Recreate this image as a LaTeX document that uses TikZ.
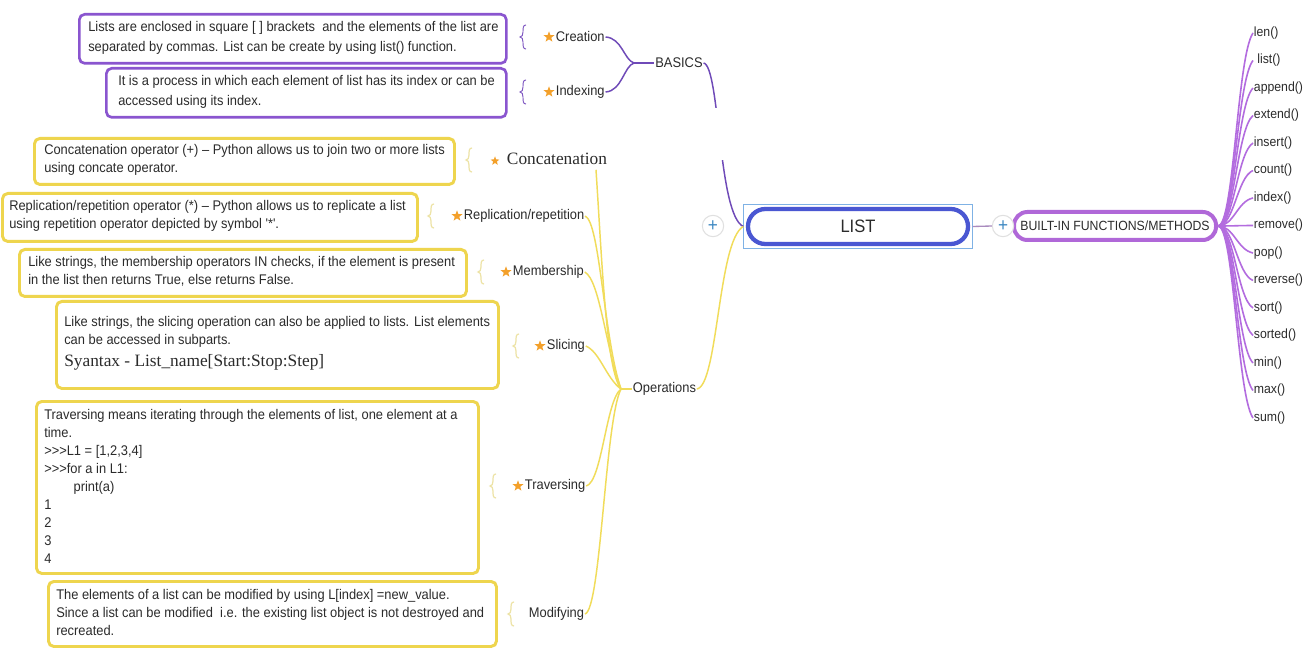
\documentclass[tikz,border=0pt]{standalone}
\usepackage{fontspec}
\setmainfont{Liberation Sans}[FakeStretch=0.92, Ligatures=TeXOff]
\newfontfamily\serf{Liberation Serif}
\usetikzlibrary{shapes.geometric,fit,calc}
\definecolor{txt}{HTML}{2B2B2B}
\definecolor{pur}{HTML}{8A55CF}
\definecolor{purl}{HTML}{6F4AB8}
\definecolor{yel}{HTML}{EED54E}
\definecolor{yell}{HTML}{F1DC5A}
\definecolor{ybrc}{HTML}{EDE3A6}
\definecolor{pbrc}{HTML}{7B52C0}
\definecolor{starc}{HTML}{F3A02A}
\definecolor{listc}{HTML}{4A57D2}
\definecolor{selc}{HTML}{7FB2E5}
\definecolor{bfc}{HTML}{B068D8}
\definecolor{fanc}{HTML}{B36CDF}
\definecolor{plusc}{HTML}{3D88C2}
\definecolor{lnk}{HTML}{A98BBE}
\tikzset{
 pbox/.style={draw=pur, line width=2pt, rounded corners=4pt, fill=white, anchor=north west, inner sep=0pt},
 ybox/.style={draw=yel, line width=2.2pt, rounded corners=4pt, fill=white, anchor=north west, inner sep=0pt},
 btext/.style={anchor=west, align=left, inner sep=0pt, text=txt, font=\fontsize{10.5}{13.5}\selectfont},
 ptext/.style={btext, font=\fontsize{10.5}{15}\selectfont},
 lab/.style={anchor=west, inner sep=0.5pt, text=txt, font=\fontsize{10.5}{12}\selectfont},
 meth/.style={anchor=west, inner sep=0.5pt, text=txt, font=\fontsize{10}{12}\selectfont},
 starn/.style={star, star points=5, star point ratio=2.4, fill=starc, draw=none, minimum size=8.5pt, inner sep=0pt},
 pline/.style={draw=purl, line width=1.1pt},
 yline/.style={draw=yell, line width=1.1pt},
 fanl/.style={draw=fanc, line width=1.2pt},
 plusn/.style={circle, draw=black!12, fill=white, line width=0.8pt, minimum size=16pt, inner sep=0pt, text=plusc, font=\fontsize{14}{14}\selectfont},
 pbr/.pic={\draw[pbrc, line width=0.7pt] (6,-12) .. controls (3,-12) and (3,-9) .. (3,-5) .. controls (3,-2) and (2,0) .. (0,0) .. controls (2,0) and (3,2) .. (3,5) .. controls (3,9) and (3,12) .. (6,12);},
 ybr/.pic={\draw[ybrc, line width=0.9pt] (6,-12) .. controls (3,-12) and (3,-9) .. (3,-5) .. controls (3,-2) and (2,0) .. (0,0) .. controls (2,0) and (3,2) .. (3,5) .. controls (3,9) and (3,12) .. (6,12);},
}
\begin{document}
\begin{tikzpicture}[x=0.75pt,y=-0.75pt]
\useasboundingbox (0,0) rectangle (1312,648);
\fill[white] (0,0) rectangle (1312,648);

% ---------- BASICS ----------
\node[pbox, minimum width=320.25pt, minimum height=36.75pt] (bcre) at (78,13) {};
\node[ptext] (tcre) at (88,37.5) {Lists are enclosed in square [ ] brackets\ \ and the elements of the list are\\separated by commas. List can be create by using list() function.};
\node[pbox, minimum width=300pt, minimum height=36.75pt] (bidx) at (105,67) {};
\node[ptext] (tidx) at (118,91.5) {It is a process in which each element of list has its index or can be\\accessed using its index.};
\pic at (520,37) {pbr};
\pic at (520,92) {pbr};
\node[starn] (scre) at (549,37) {};
\node[lab] (lcre) at (555,37) {Creation};
\node[starn] (sidx) at (549,92) {};
\node[lab] (lidx) at (555,92) {Indexing};
\coordinate (bj) at (634,63);
\node[lab, anchor=center] (basics) at (679,63) {BASICS};
\draw[pline] (lcre.east) .. controls (622,38) and (624,60) .. (bj);
\draw[pline] (lidx.east) .. controls (622,91) and (624,66) .. (bj);
\draw[pline] (bj) -- (basics.west);

% ---------- Operations ----------
\node[ybox, minimum width=315pt, minimum height=34.5pt] (bcon) at (33,137) {};
\node[btext] (tcon) at (44,160) {Concatenation operator (+) – Python allows us to join two or more lists\\using concate operator.};
\node[ybox, minimum width=311.25pt, minimum height=36pt] (brep) at (1,192) {};
\node[btext] (trep) at (9,216) {Replication/repetition operator (*) – Python allows us to replicate a list\\using repetition operator depicted by symbol '*'.};
\node[ybox, minimum width=335.25pt, minimum height=35.25pt] (bmem) at (18,248) {};
\node[btext] (tmem) at (28,271.5) {Like strings, the membership operators IN checks, if the element is present\\in the list then returns True, else returns False.};
\node[ybox, minimum width=331.5pt, minimum height=65.25pt] (bsli) at (55,300) {};
\node[btext] (tsli) at (64,343.5) {Like strings, the slicing operation can also be applied to lists. List elements\\can be accessed in subparts.\\[3pt]{\serf\fontsize{13}{15}\selectfont Syantax - List\_name[Start:Stop:Step]}};
\node[ybox, minimum width=331.5pt, minimum height=129pt] (btra) at (35,400) {};
\node[btext] (ttra) at (44,486) {Traversing means iterating through the elements of list, one element at a\\time.\\>>>L1 = [1,2,3,4]\\>>>for a in L1:\\\hspace*{22pt}print(a)\\1\\2\\3\\4};
\node[ybox, minimum width=336pt, minimum height=48.75pt] (bmod) at (47,580) {};
\node[btext] (tmod) at (56,612.5) {The elements of a list can be modified by using L[index] =new\_value.\\Since a list can be modified\ \ i.e. the existing list object is not destroyed and\\recreated.};

\pic at (466,160) {ybr};
\pic at (428,216) {ybr};
\pic at (478,272) {ybr};
\pic at (513,346) {ybr};
\pic at (490,486) {ybr};
\pic at (508,614) {ybr};

\node[starn, minimum size=7pt] (scon) at (495,161) {};
\node[anchor=west, inner sep=0.5pt, text=txt, font=\serf\fontsize{13}{15}\selectfont] (lcon) at (506,159) {Concatenation};
\node[starn] (srep) at (457,216) {};
\node[lab] (lrep) at (463,216) {Replication/repetition};
\node[starn] (smem) at (506,272) {};
\node[lab] (lmem) at (512,272) {Membership};
\node[starn] (ssli) at (540,346) {};
\node[lab] (lsli) at (546,346) {Slicing};
\node[starn] (stra) at (518,486) {};
\node[lab] (ltra) at (524,486) {Traversing};
\node[lab] (lmod) at (528,614) {Modifying};

\coordinate (opj) at (621,389);
\node[lab] (ops) at (632,389) {Operations};
\draw[yline] ($(lcon.south east)+(-12,4)$) .. controls (602,260) and (606,370) .. (opj);
\draw[yline] (lrep.east) .. controls (600,222) and (604,340) .. (opj);
\draw[yline] (lmem.east) .. controls (600,280) and (606,350) .. (opj);
\draw[yline] (lsli.east) .. controls (600,352) and (606,378) .. (opj);
\draw[yline] (ltra.east) .. controls (602,482) and (606,400) .. (opj);
\draw[yline] (lmod.east) .. controls (601,610) and (605,420) .. (opj);
\draw[yline] (opj) -- (ops.west);

% ---------- LIST ----------
\node[draw=listc, line width=3.2pt, rounded corners=13pt, fill=white, minimum width=165pt, minimum height=26.25pt, inner sep=0pt, text=txt, font=\fontsize{13.5}{15}\selectfont] (list) at (858,226.5) {LIST};
\node[fit=(list), draw=selc, line width=0.6pt, inner sep=1.6pt] (listsel) {};
\node[plusn] (plus1) at (713,226) {+};
\draw[pline] (basics.east) .. controls (720,66) and (718,215) .. (listsel.west);
\fill[white] (705,108) rectangle (740,160);
\draw[yline] (ops.east) .. controls (718,386) and (718,240) .. (listsel.west);

% ---------- built-in ----------
\node[draw=bfc, line width=3pt, rounded corners=10pt, fill=white, minimum width=151.5pt, minimum height=21pt, inner sep=0pt, text=txt, font=\fontsize{10}{12}\selectfont] (bfm) at (1115,226) {BUILT-IN FUNCTIONS/METHODS};
\node[plusn] (plus2) at (1003,226) {+};
\draw[draw=lnk, line width=1pt] (listsel.east) -- (plus2.west);
\foreach \t [count=\i from 0] in {len(),\ list(),append(),extend(),insert(),count(),index(),remove(),pop(),reverse(),sort(),sorted(),min(),max(),sum()} {
  \pgfmathsetmacro\yy{33+27.5*\i}
  \node[meth] (m\i) at (1253,\yy) {\t};
  \draw[fanl] (bfm.east) .. controls (1234,226) and (1237,{\yy+0.12*(226-\yy)}) .. (m\i.west);
}
\end{tikzpicture}
\end{document}
